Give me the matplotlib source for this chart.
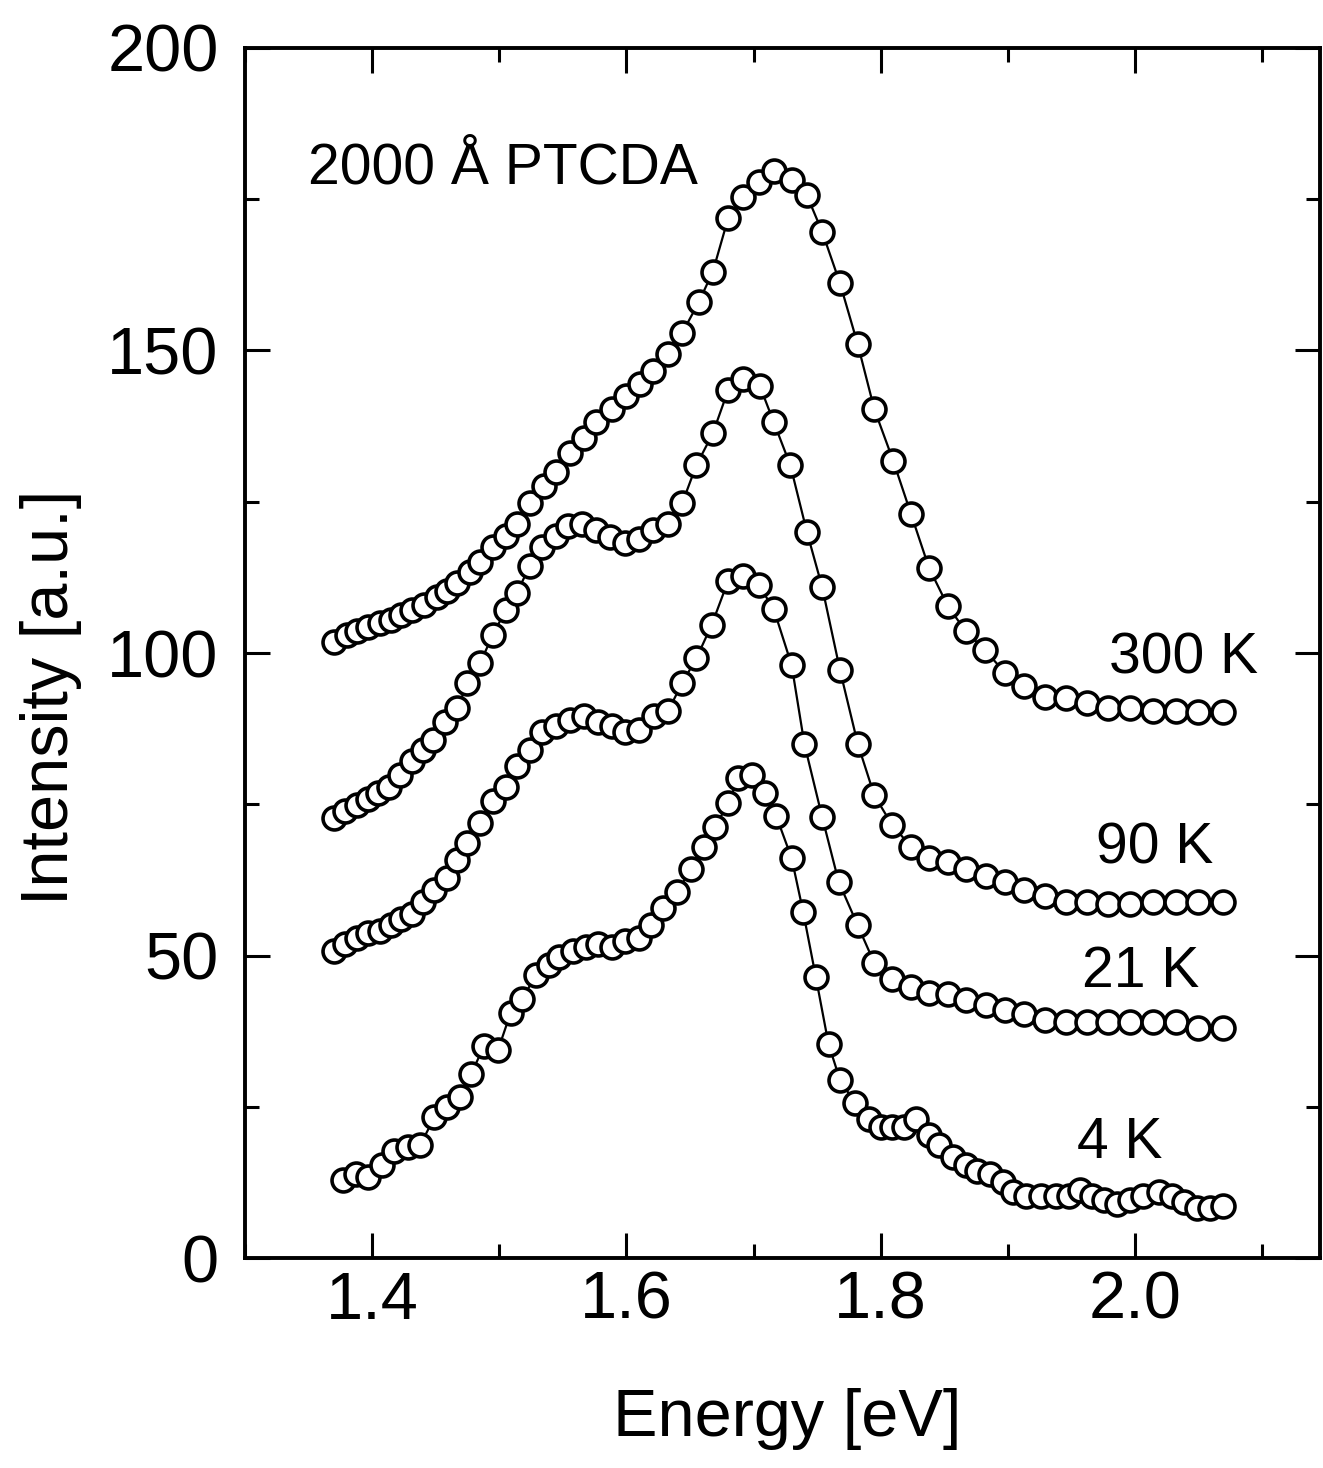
import matplotlib
matplotlib.use("Agg")
import matplotlib.pyplot as plt
from matplotlib.ticker import MultipleLocator

plt.rcParams["font.family"] = ["Liberation Sans", "DejaVu Sans"]

# ---- data (energy in eV, intensity in a.u.) ----
e_300 = [1.370, 1.380, 1.388, 1.397, 1.406, 1.415, 1.423, 1.431, 1.441, 1.451,
         1.459, 1.467, 1.477, 1.485, 1.495, 1.505, 1.514, 1.524, 1.535, 1.545,
         1.556, 1.567, 1.576, 1.589, 1.600, 1.611, 1.621, 1.633, 1.644, 1.657,
         1.668, 1.680, 1.692, 1.704, 1.716, 1.730, 1.742, 1.754, 1.768, 1.782,
         1.795, 1.810, 1.824, 1.838, 1.853, 1.867, 1.882, 1.898, 1.913, 1.929,
         1.946, 1.962, 1.979, 1.996, 2.014, 2.032, 2.050, 2.069]
i_300 = [101.9, 103.0, 103.6, 104.3, 105.0, 105.5, 106.3, 107.1, 108.0, 109.3,
         110.3, 111.5, 113.4, 115.0, 117.5, 119.4, 121.3, 124.8, 127.6, 129.9,
         133.0, 135.5, 138.1, 140.3, 142.5, 144.4, 146.6, 149.4, 152.9, 158.0,
         163.0, 171.8, 175.3, 177.8, 179.7, 178.2, 175.6, 169.6, 161.1, 151.0,
         140.3, 131.7, 122.9, 114.1, 107.7, 103.6, 100.5, 96.7, 94.6, 92.8,
         92.5, 91.8, 90.9, 90.9, 90.5, 90.5, 90.2, 90.2]

e_90 = [1.370, 1.379, 1.388, 1.397, 1.405, 1.413, 1.422, 1.431, 1.440, 1.448,
        1.457, 1.467, 1.475, 1.485, 1.495, 1.505, 1.514, 1.524, 1.534, 1.545,
        1.554, 1.565, 1.576, 1.587, 1.599, 1.610, 1.621, 1.633, 1.644, 1.655,
        1.668, 1.680, 1.692, 1.705, 1.716, 1.729, 1.742, 1.754, 1.768, 1.782,
        1.795, 1.809, 1.824, 1.838, 1.853, 1.867, 1.883, 1.898, 1.913, 1.929,
        1.946, 1.962, 1.979, 1.996, 2.014, 2.032, 2.050, 2.069]
i_90 = [72.7, 73.9, 74.9, 75.9, 76.8, 77.8, 79.9, 82.1, 84.0, 85.6,
        88.6, 90.9, 95.0, 98.4, 103.0, 107.1, 110.0, 114.4, 117.5, 119.4,
        121.0, 121.3, 120.4, 119.1, 118.1, 118.8, 120.4, 121.3, 124.8, 131.0,
        136.3, 143.4, 145.3, 144.1, 138.1, 131.0, 120.0, 110.9, 97.2, 85.0,
        76.5, 71.6, 68.0, 66.1, 65.4, 64.4, 63.1, 62.2, 60.9, 59.9,
        58.9, 58.9, 58.6, 58.6, 58.9, 58.9, 58.9, 58.9]

e_21 = [1.370, 1.379, 1.388, 1.397, 1.406, 1.415, 1.423, 1.431, 1.440, 1.449,
        1.459, 1.467, 1.475, 1.485, 1.495, 1.505, 1.514, 1.524, 1.534, 1.545,
        1.556, 1.567, 1.578, 1.589, 1.599, 1.610, 1.622, 1.633, 1.644, 1.655,
        1.667, 1.680, 1.692, 1.704, 1.716, 1.730, 1.740, 1.754, 1.767, 1.782,
        1.795, 1.809, 1.824, 1.838, 1.853, 1.867, 1.883, 1.898, 1.913, 1.929,
        1.946, 1.962, 1.979, 1.996, 2.014, 2.032, 2.050, 2.069]
i_21 = [50.7, 52.0, 53.0, 53.7, 54.0, 55.0, 56.0, 56.9, 58.9, 60.9,
        62.8, 65.8, 68.7, 71.9, 75.5, 77.8, 81.4, 84.0, 87.0, 87.9,
        88.9, 89.6, 88.6, 87.9, 87.0, 87.3, 89.6, 90.5, 95.1, 99.1,
        104.6, 111.9, 112.8, 111.3, 107.2, 98.0, 85.0, 72.9, 62.2, 55.0,
        48.8, 46.2, 44.9, 43.9, 43.6, 42.6, 41.9, 41.0, 40.3, 39.3,
        39.0, 39.0, 39.0, 39.0, 39.0, 39.0, 38.0, 38.0]

e_4 = [1.377, 1.387, 1.397, 1.408, 1.417, 1.428, 1.438, 1.449, 1.459, 1.469,
       1.478, 1.488, 1.499, 1.509, 1.518, 1.529, 1.539, 1.547, 1.558, 1.568,
       1.578, 1.589, 1.599, 1.610, 1.619, 1.629, 1.640, 1.651, 1.661, 1.670,
       1.680, 1.688, 1.699, 1.709, 1.718, 1.730, 1.739, 1.749, 1.759, 1.768,
       1.780, 1.791, 1.800, 1.809, 1.818, 1.828, 1.838, 1.846, 1.857, 1.867,
       1.876, 1.886, 1.896, 1.904, 1.914, 1.926, 1.938, 1.948, 1.957, 1.966,
       1.976, 1.986, 1.996, 2.006, 2.019, 2.029, 2.039, 2.049, 2.059, 2.069]
i_4 = [12.9, 13.9, 13.5, 15.5, 17.8, 18.4, 18.8, 23.3, 25.0, 26.6,
       30.5, 35.1, 34.4, 40.6, 42.9, 46.8, 48.5, 49.8, 50.7, 51.4,
       52.0, 51.4, 52.4, 53.0, 55.0, 57.9, 60.5, 64.4, 68.0, 71.3,
       75.2, 79.3, 79.9, 76.8, 73.0, 66.1, 57.3, 46.5, 35.4, 29.5,
       25.6, 23.0, 21.7, 21.7, 21.7, 23.0, 20.4, 18.8, 16.8, 15.5,
       14.5, 13.9, 12.6, 10.9, 10.3, 10.3, 10.3, 10.3, 11.3, 10.3,
       9.6, 9.0, 9.6, 10.3, 10.9, 10.3, 9.3, 8.3, 8.3, 8.6]

curves = [(e_300, i_300), (e_90, i_90), (e_21, i_21), (e_4, i_4)]

# label text, x (right edge), y (baseline)
temp_labels = ["300 K", "90 K", "21 K", "4 K"]
temp_label_x = [2.097, 2.062, 2.051, 2.022]
temp_label_y = [96.7, 65.2, 44.9, 16.5]


fig = plt.figure(figsize=(13.23, 14.68), dpi=100)
ax = fig.add_axes([0.1852, 0.1428, 0.8129, 0.8247])

style = dict(color="black", lw=1.6, marker="o", ms=16.5,
             mfc="white", mec="black", mew=2.6)
for e, i in curves:
    ax.plot(e, i, **style)

for txt, x, y in zip(temp_labels, temp_label_x, temp_label_y):
    ax.text(x, y, txt, fontsize=41, ha="right", va="baseline")

ax.text(1.3496, 177.6, "2000 Å PTCDA", fontsize=41, ha="left", va="baseline")

ax.set_xlim(1.3, 2.146)
ax.set_ylim(0, 200)
ax.xaxis.set_major_locator(MultipleLocator(0.2))
ax.xaxis.set_minor_locator(MultipleLocator(0.1))
ax.yaxis.set_major_locator(MultipleLocator(50))
ax.yaxis.set_minor_locator(MultipleLocator(25))
ax.xaxis.set_major_formatter(plt.FuncFormatter(lambda v, p: f"{v:.1f}"))

ax.tick_params(which="both", direction="in", top=True, right=True, width=2.2)
ax.tick_params(which="major", length=18, labelsize=48)
ax.tick_params(which="minor", length=10)
ax.tick_params(axis="y", pad=19)
ax.tick_params(axis="x", pad=9)

for s in ax.spines.values():
    s.set_linewidth(2.8)

ax.set_xlabel("Energy [eV]", fontsize=48)
ax.set_ylabel("Intensity [a.u.]", fontsize=48)
ax.xaxis.set_label_coords(0.504, -0.107)
ax.yaxis.set_label_coords(-0.1516, 0.4637)

fig.savefig("out.png", dpi=100)
